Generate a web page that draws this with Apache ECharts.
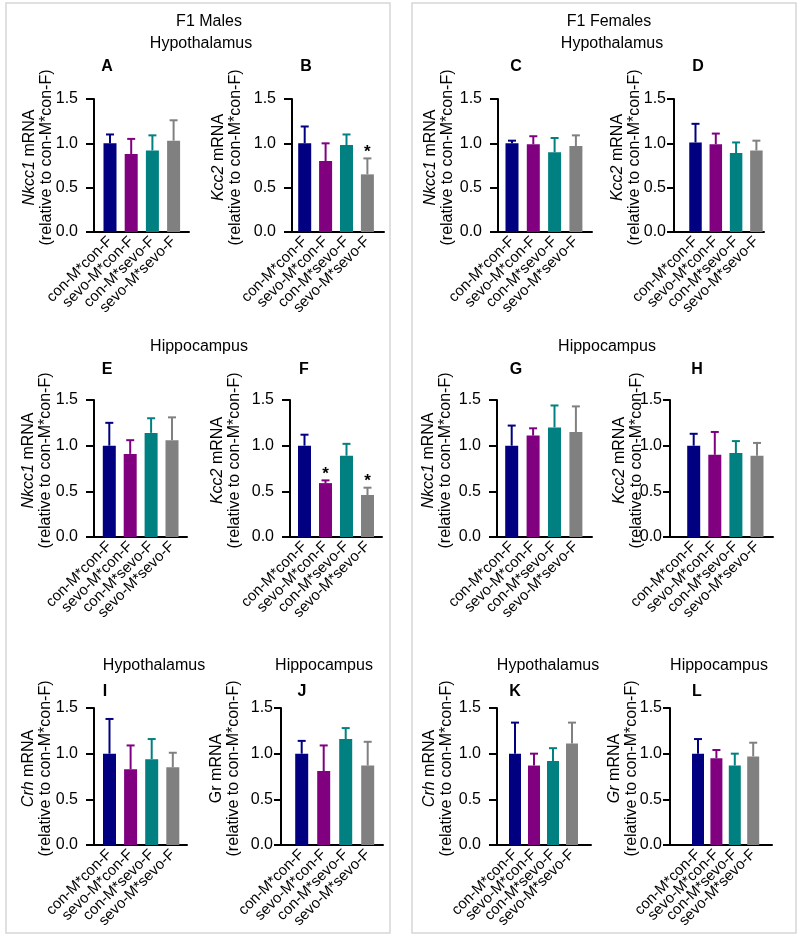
<!DOCTYPE html>
<html><head><meta charset="utf-8">
<script src="https://cdn.jsdelivr.net/npm/echarts@6/dist/echarts.min.js"></script>
<style>html,body{margin:0;padding:0;background:#fff}#c{width:800px;height:941px}</style>
</head><body><div id="c"></div>
<script>
// ---------- data ----------
const categories = ['con-M*con-F', 'sevo-M*con-F', 'con-M*sevo-F', 'sevo-M*sevo-F'];
const yTicks = [0, 0.5, 1.0, 1.5];

const meanA = [1.00, 0.88, 0.92, 1.03]; const semA = [0.10, 0.17, 0.17, 0.23];
const meanB = [1.00, 0.80, 0.98, 0.65]; const semB = [0.19, 0.20, 0.12, 0.18];
const meanC = [1.00, 0.99, 0.90, 0.97]; const semC = [0.03, 0.09, 0.16, 0.12];
const meanD = [1.01, 0.99, 0.89, 0.92]; const semD = [0.21, 0.12, 0.12, 0.11];
const meanE = [1.00, 0.91, 1.14, 1.06]; const semE = [0.25, 0.15, 0.16, 0.25];
const meanF = [1.00, 0.59, 0.89, 0.46]; const semF = [0.12, 0.03, 0.13, 0.08];
const meanG = [1.00, 1.11, 1.20, 1.15]; const semG = [0.22, 0.08, 0.24, 0.28];
const meanH = [1.00, 0.90, 0.92, 0.89]; const semH = [0.13, 0.25, 0.13, 0.14];
const meanI = [1.00, 0.83, 0.94, 0.85]; const semI = [0.38, 0.26, 0.22, 0.16];
const meanJ = [1.00, 0.81, 1.16, 0.87]; const semJ = [0.14, 0.28, 0.12, 0.26];
const meanK = [1.00, 0.87, 0.92, 1.11]; const semK = [0.34, 0.13, 0.14, 0.23];
const meanL = [1.00, 0.95, 0.87, 0.97]; const semL = [0.16, 0.09, 0.13, 0.15];
const sigNone = [0, 0, 0, 0];
const sigB = [0, 0, 0, 1];
const sigF = [0, 1, 0, 1];

// ---------- styling / layout ----------
const FONT = 'Liberation Sans, Arial, sans-serif';
const colors = ['#000080', '#800080', '#008080', '#808080'];

const panels = [
  {letter:'A', gene:'Nkcc1', it:true,  mean:meanA, sem:semA, sig:sigNone, left:94,  right:189, top:99,  h:133, c1:110,   s:21.2, bw:13,   gap:39, lm:16, tl:8, lx:107, ly:67},
  {letter:'B', gene:'Kcc2',  it:true,  mean:meanB, sem:semB, sig:sigB,    left:292, right:384, top:99,  h:133, c1:304.7, s:20.9, bw:13,   gap:48, lm:16, tl:8, lx:306, ly:67},
  {letter:'C', gene:'Nkcc1', it:true,  mean:meanC, sem:semC, sig:sigNone, left:498, right:592, top:99,  h:133, c1:512,   s:21.3, bw:13,   gap:42, lm:16, tl:8, lx:516, ly:67},
  {letter:'D', gene:'Kcc2',  it:true,  mean:meanD, sem:semD, sig:sigNone, left:674, right:764, top:99,  h:133, c1:695.5, s:20.3, bw:12.5, gap:31, lm:8,  tl:7, lx:698, ly:67},
  {letter:'E', gene:'Nkcc1', it:true,  mean:meanE, sem:semE, sig:sigNone, left:94,  right:187, top:400, h:137, c1:109.3, s:20.9, bw:13,   gap:40, lm:16, tl:8, lx:107, ly:370},
  {letter:'F', gene:'Kcc2',  it:true,  mean:meanF, sem:semF, sig:sigF,    left:290, right:382, top:400, h:137, c1:304.5, s:21,   bw:13,   gap:47, lm:16, tl:8, lx:304, ly:370},
  {letter:'G', gene:'Nkcc1', it:true,  mean:meanG, sem:semG, sig:sigNone, left:497, right:592, top:400, h:137, c1:511.7, s:21.4, bw:13,   gap:43, lm:16, tl:8, lx:516, ly:370},
  {letter:'H', gene:'Kcc2',  it:true,  mean:meanH, sem:semH, sig:sigNone, left:670, right:773, top:400, h:137, c1:693.7, s:21.1, bw:13,   gap:25, lm:8,  tl:7, lx:697, ly:370},
  {letter:'I', gene:'Crh',   it:true,  mean:meanI, sem:semI, sig:sigNone, left:94,  right:187, top:708, h:137, c1:109.5, s:21.1, bw:13,   gap:40, lm:16, tl:8, lx:105, ly:692},
  {letter:'J', gene:'Gr',    it:false, mean:meanJ, sem:semJ, sig:sigNone, left:281, right:383, top:708, h:137, c1:301.7, s:22,   bw:13,   gap:39, lm:8,  tl:7, lx:302, ly:692},
  {letter:'K', gene:'Crh',   it:true,  mean:meanK, sem:semK, sig:sigNone, left:497, right:591, top:708, h:137, c1:515,   s:19,   bw:12,   gap:42, lm:16, tl:8, lx:515, ly:692},
  {letter:'L', gene:'Gr',    it:true,  mean:meanL, sem:semL, sig:sigNone, left:670, right:772, top:708, h:137, c1:698,   s:18.4, bw:12,   gap:30, lm:8,  tl:7, lx:697, ly:692}
];

const headings = [
  {t:'F1 Males', x:209, y:22}, {t:'Hypothalamus', x:201, y:44},
  {t:'F1 Females', x:609, y:22}, {t:'Hypothalamus', x:612, y:44},
  {t:'Hippocampus', x:199, y:347}, {t:'Hippocampus', x:607, y:347},
  {t:'Hypothalamus', x:154, y:666}, {t:'Hippocampus', x:324, y:666},
  {t:'Hypothalamus', x:548, y:666}, {t:'Hippocampus', x:719, y:666}
];

function renderErr(params, api) {
  const x = api.value(0), m = api.value(1), e = api.value(2), sig = api.value(3);
  const p0 = api.coord([x, m]);
  const p1 = api.coord([x, m + e]);
  const c = colors[x];
  const ch = [
    {type:'line', shape:{x1:p0[0], y1:p0[1], x2:p1[0], y2:p1[1]}, style:{stroke:c, lineWidth:2}},
    {type:'line', shape:{x1:p1[0]-4, y1:p1[1], x2:p1[0]+4, y2:p1[1]}, style:{stroke:c, lineWidth:2}}
  ];
  if (sig) {
    ch.push({type:'text', x:p1[0], y:p1[1]-6, style:{text:'*', fill:'#000', font:'bold 17px ' + FONT, align:'center', verticalAlign:'middle'}});
  }
  return {type:'group', children:ch};
}

const grid = [], xAxis = [], yAxis = [], series = [], graphic = [];

graphic.push({type:'rect', shape:{x:6, y:3, width:384, height:930}, style:{fill:null, stroke:'#d6d6d6', lineWidth:1.5}, z:-10});
graphic.push({type:'rect', shape:{x:412, y:3, width:384, height:930}, style:{fill:null, stroke:'#d6d6d6', lineWidth:1.5}, z:-10});
headings.forEach(hd => graphic.push({type:'text', x:hd.x, y:hd.y, style:{text:hd.t, fill:'#000', font:'16px ' + FONT, align:'center', verticalAlign:'middle'}}));

panels.forEach((p, k) => {
  graphic.push({type:'text', x:p.lx, y:p.ly, style:{text:p.letter, fill:'#000', font:'bold 16px ' + FONT, align:'center', verticalAlign:'middle'}});
  grid.push({left:p.left, top:p.top, width:p.right - p.left, height:p.h, containLabel:false});
  const xmin = (p.left - p.c1) / p.s, xmax = (p.right - p.c1) / p.s;
  xAxis.push({
    type:'value', gridIndex:k, min:xmin, max:xmax,
    axisLine:{show:true, onZero:false, lineStyle:{color:'#000', width:2}},
    axisTick:{show:false},
    splitLine:{show:false},
    axisLabel:{
      // blank guard labels at both ends keep the four category labels visible
      customValues:[xmin, 0, 1, 2, 3, xmax],
      formatter:(v) => (Number.isInteger(v) && categories[v]) ? categories[v] : ' ',
      rotate:45, margin:7, color:'#000', fontSize:15, fontFamily:FONT
    }
  });
  yAxis.push({
    type:'value', gridIndex:k, min:0, max:1.5, interval:0.5,
    axisLine:{show:true, onZero:false, lineStyle:{color:'#000', width:2}},
    axisTick:{show:true, length:p.tl, lineStyle:{color:'#000', width:2}},
    splitLine:{show:false},
    axisLabel:{formatter:(v) => v.toFixed(1), margin:p.lm, color:'#000', fontSize:16, fontFamily:FONT},
    name:'{g|' + p.gene + '} mRNA\n(relative to con-M*con-F)',
    nameLocation:'middle', nameGap:p.gap, nameRotate:90, nameMoveOverlap:false,
    nameTextStyle:{
      color:'#000', fontSize:16, fontFamily:FONT, lineHeight:17, padding:[0, 0, 0, 16],
      rich:{g:{fontStyle:p.it ? 'italic' : 'normal', fontSize:16, fontFamily:FONT, color:'#000', lineHeight:17}}
    }
  });
  series.push({
    type:'bar', xAxisIndex:k, yAxisIndex:k, barWidth:p.bw,
    data:p.mean.map((v, i) => [i, v]),
    itemStyle:{color:(d) => colors[d.dataIndex]},
    silent:true, animation:false
  });
  series.push({
    type:'custom', xAxisIndex:k, yAxisIndex:k,
    data:p.mean.map((v, i) => [i, v, p.sem[i], p.sig[i]]),
    renderItem:renderErr, z:3, silent:true, animation:false, clip:false
  });
});

const chart = echarts.init(document.getElementById('c'), null, {renderer:'canvas'});
chart.setOption({backgroundColor:'#fff', animation:false, grid, xAxis, yAxis, series, graphic});
</script>
</body></html>
